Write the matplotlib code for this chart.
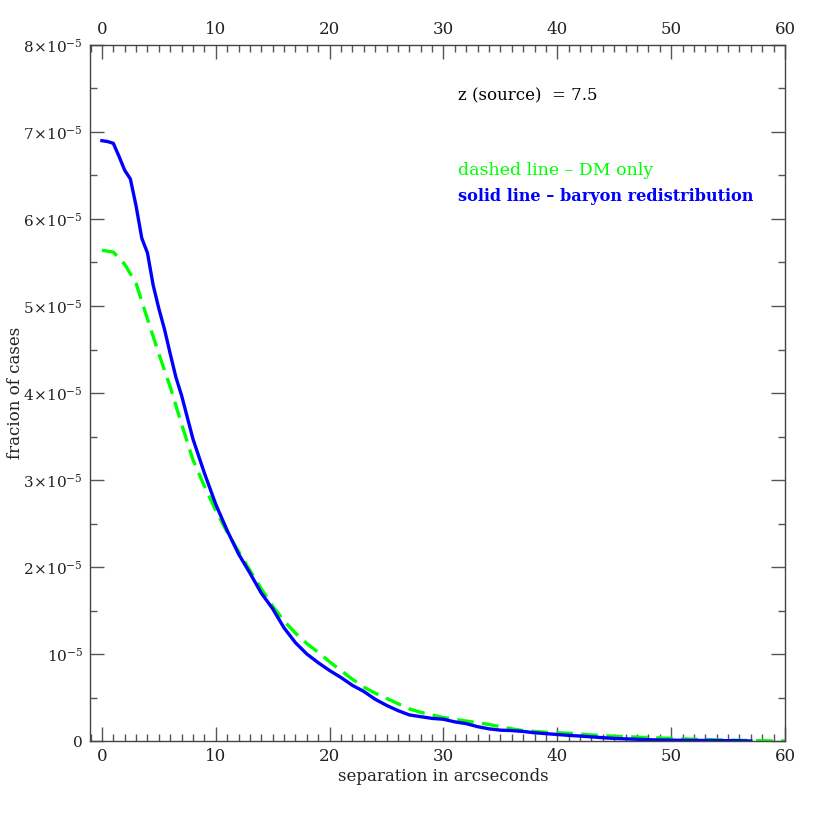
import matplotlib
matplotlib.use("Agg")
import matplotlib.pyplot as plt
from matplotlib.ticker import MultipleLocator, FixedLocator, FixedFormatter

plt.rcParams['font.family'] = ['DejaVu Serif']
plt.rcParams['mathtext.fontset'] = 'dejavuserif'

# Solid line (baryon redistribution), fraction in units of 1e-5
blue_x = [0, 0.5, 1, 1.5, 2, 2.5, 3, 3.5, 4, 4.5, 5, 5.5, 6, 6.5, 7, 7.5, 8,
          9, 10, 11, 12, 13, 14, 15, 16, 17, 18, 19, 20, 21, 22, 23, 24, 25,
          26, 27, 28, 29, 30, 31, 32, 33, 34, 35, 36, 37, 38, 39, 40, 41, 42,
          43, 44, 45, 46, 47, 48, 49, 50, 51, 52, 53, 54, 55, 56, 57]
blue_y = [6.90, 6.89, 6.87, 6.72, 6.56, 6.46, 6.15, 5.78, 5.61, 5.24, 4.97,
          4.73, 4.45, 4.18, 3.97, 3.72, 3.47,
          3.08, 2.72, 2.42, 2.15, 1.93, 1.70, 1.52, 1.30, 1.13, 1.00, 0.90,
          0.81, 0.73, 0.64, 0.57, 0.48, 0.41, 0.35, 0.30, 0.28, 0.26, 0.25,
          0.22, 0.20, 0.165, 0.14, 0.125, 0.12, 0.11, 0.095, 0.085, 0.075,
          0.065, 0.057, 0.048, 0.038, 0.030, 0.025, 0.020, 0.015, 0.012,
          0.010, 0.008, 0.007, 0.006, 0.005, 0.004, 0.003, 0.0]

# Dashed line (DM only)
green_x = list(range(0, 61))
green_y = [5.64, 5.62, 5.48, 5.26, 4.85, 4.45, 4.07, 3.64, 3.23, 2.93, 2.65,
           2.40, 2.18, 1.96, 1.75, 1.55, 1.38, 1.24, 1.12, 1.02, 0.91, 0.81,
           0.71, 0.62, 0.55, 0.49, 0.43, 0.37, 0.33, 0.30, 0.27, 0.25, 0.23,
           0.21, 0.19, 0.165, 0.14, 0.12, 0.11, 0.10, 0.095, 0.09, 0.08, 0.07,
           0.062, 0.055, 0.05, 0.045, 0.04, 0.035, 0.03, 0.024, 0.02, 0.017,
           0.014, 0.011, 0.008, 0.006, 0.003, 0.001, 0.0]

y_ticks = [0, 1, 2, 3, 4, 5, 6, 7, 8]
y_tick_labels = ['0', r'$10^{-5}$'] + [r'$%d\!\times\!10^{-5}$' % k for k in range(2, 9)]
x_ticks = [0, 10, 20, 30, 40, 50, 60]

fig = plt.figure(figsize=(8.3, 8.3), dpi=100)
ax = fig.add_axes([0.1084, 0.1072, 0.8374, 0.8386])

ax.plot(green_x, [y * 1e-5 for y in green_y], color='#00ff00',
        lw=2.4, dashes=(5, 2.5))
ax.plot(blue_x, [y * 1e-5 for y in blue_y], color='#0000ff', lw=2.4)

ax.set_xlim(-1.05, 60)
ax.set_ylim(0, 8e-5)
ax.xaxis.set_major_locator(FixedLocator(x_ticks))
ax.xaxis.set_minor_locator(MultipleLocator(1))
ax.yaxis.set_major_locator(FixedLocator([v * 1e-5 for v in y_ticks]))
ax.yaxis.set_major_formatter(FixedFormatter(y_tick_labels))
ax.yaxis.set_minor_locator(MultipleLocator(0.5e-5))

ax.tick_params(which='both', direction='in', top=True, right=True,
               labeltop=True, color='#555555', labelcolor='#222222')
ax.tick_params(axis='x', labelsize=12)
ax.tick_params(axis='y', labelsize=11)
ax.tick_params(which='major', length=10, width=1, pad=5)
ax.tick_params(which='minor', length=5, width=1)
for s in ax.spines.values():
    s.set_color('#444444')
    s.set_linewidth(1)

fig.text(0.534, 0.065, 'separation in arcseconds', fontsize=12,
         ha='center', va='center', color='#222222')
fig.text(0.019, 0.5265, 'fracion of cases', fontsize=12, rotation=90,
         ha='center', va='center', color='#222222')

ax.text(0.529, 0.927, 'z (source)  = 7.5', transform=ax.transAxes,
        fontsize=12, va='center', ha='left', color='black')
ax.text(0.529, 0.820, 'dashed line \u2013 DM only', transform=ax.transAxes,
        fontsize=12.5, va='center', ha='left', color='#00ff00')
ax.text(0.529, 0.783, 'solid line \u2013 baryon redistribution', transform=ax.transAxes,
        fontsize=11.6, va='center', ha='left', color='#0000ff', fontweight='bold')

fig.savefig('out.png', dpi=100)
